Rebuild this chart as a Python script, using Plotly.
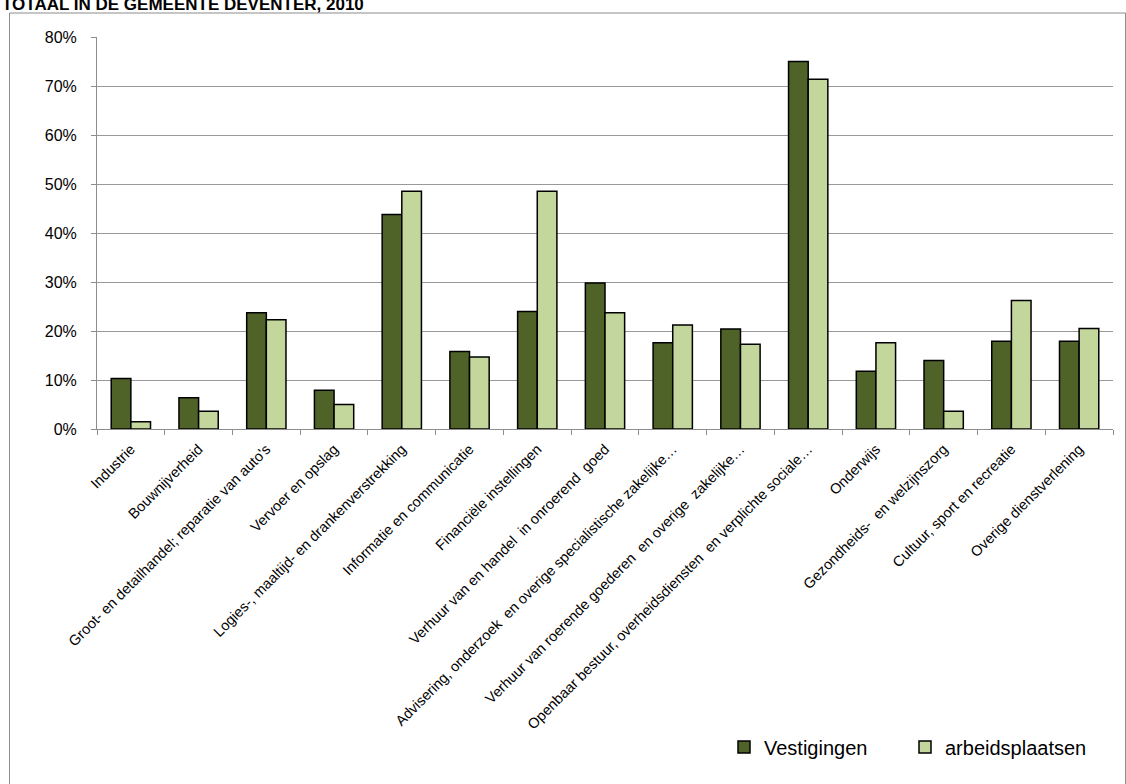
import plotly.graph_objects as go

categories = [
    "Industrie",
    "Bouwnijverheid",
    "Groot- en detailhandel; reparatie van auto's",
    "Vervoer en opslag",
    "Logies-, maaltijd- en drankenverstrekking",
    "Informatie en communicatie",
    "Financiële instellingen",
    "Verhuur van en handel  in onroerend  goed",
    "Advisering, onderzoek  en overige specialistische zakelijke…",
    "Verhuur van roerende goederen  en overige  zakelijke…",
    "Openbaar bestuur, overheidsdiensten  en verplichte sociale…",
    "Onderwijs",
    "Gezondheids-  en welzijnszorg",
    "Cultuur, sport en recreatie",
    "Overige dienstverlening",
]
vestigingen = [10.3, 6.4, 23.7, 7.9, 43.8, 15.8, 24.0, 29.8, 17.6, 20.4, 75.0, 11.8, 14.0, 17.9, 17.9]
arbeidsplaatsen = [1.5, 3.6, 22.3, 5.0, 48.5, 14.7, 48.5, 23.7, 21.2, 17.3, 71.4, 17.6, 3.6, 26.2, 20.5]
yticks = [0, 10, 20, 30, 40, 50, 60, 70, 80]
title_text = "TOTAAL IN DE GEMEENTE DEVENTER, 2010"

W, H = 1126, 784
L, R, T, B = 97, 13, 37, 355
pw, ph = W - L - R, H - T - B

def px_x(x):
    return (x - L) / pw

def px_y(y):
    return (H - B - y) / ph

fig = go.Figure()
fig.add_trace(go.Bar(
    x=categories, y=vestigingen, name="Vestigingen",
    marker=dict(color="#4F6228", line=dict(color="#000000", width=1.5)),
))
fig.add_trace(go.Bar(
    x=categories, y=arbeidsplaatsen, name="arbeidsplaatsen",
    marker=dict(color="#C3D69B", line=dict(color="#000000", width=1.5)),
))

fig.update_layout(
    width=W, height=H,
    margin=dict(l=L, r=R, t=T, b=B, pad=0, autoexpand=False),
    paper_bgcolor="white", plot_bgcolor="white",
    barmode="group", bargap=0.42, bargroupgap=0,
    font=dict(family="Liberation Sans, Arial, sans-serif", color="#000000"),
    showlegend=True,
    legend=dict(
        orientation="h", x=px_x(724), y=px_y(747), xanchor="left", yanchor="middle",
        font=dict(size=20, color="#000000"), bgcolor="rgba(0,0,0,0)",
        itemwidth=30, tracegroupgap=0, entrywidth=136,
    ),
    xaxis=dict(
        type="category", tickangle=-45, tickfont=dict(size=14.5),
        showline=True, linecolor="#8c8c8c", linewidth=1,
        ticks="outside", tickson="boundaries", ticklen=5, tickcolor="#8c8c8c",
        showgrid=False, zeroline=False, automargin=False, ticklabelstandoff=5,
    ),
    yaxis=dict(
        range=[0, 80], tickvals=yticks, ticktext=[f"{v}%" for v in yticks],
        tickfont=dict(size=16),
        showline=True, linecolor="#8c8c8c", linewidth=1,
        ticks="outside", ticklen=5, tickcolor="#8c8c8c",
        showgrid=True, gridcolor="#999999", gridwidth=1.3,
        zeroline=False, automargin=False, ticklabelstandoff=11,
    ),
    shapes=[
        dict(type="rect", xref="paper", yref="paper",
             x0=px_x(9.5), x1=px_x(1125.5), y0=px_y(790), y1=px_y(13),
             line=dict(color="#8c8c8c", width=1), fillcolor="rgba(0,0,0,0)", layer="below"),
    ],
    annotations=[
        dict(text=f"<b>{title_text}</b>", xref="paper", yref="paper",
             x=px_x(0), y=px_y(16), xanchor="left", yanchor="bottom",
             showarrow=False, font=dict(size=17, color="#000000")),
    ],
)

fig.write_html("out.html")
